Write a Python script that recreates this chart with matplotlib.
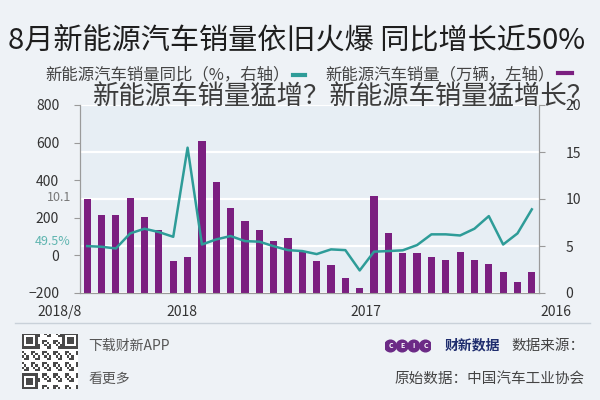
import matplotlib
matplotlib.use("Agg")
import matplotlib.pyplot as plt
import matplotlib.transforms as mtransforms
from matplotlib.patches import Circle
import numpy as np

plt.rcParams['font.family'] = ['Noto Sans CJK SC', 'DejaVu Sans']

# months 2016/1 .. 2018/8 (chronological); the reference is drawn mirrored
sales = [2.2, 1.2, 2.2, 3.1, 3.5, 4.4, 3.5, 3.8, 4.3, 4.3, 6.4, 10.3,
         0.5, 1.6, 3.0, 3.4, 4.5, 5.8, 5.5, 6.7, 7.7, 9.0, 11.8, 16.2,
         3.8, 3.4, 6.7, 8.1, 10.1, 8.3, 8.3, 10.0]
growth = [245, 117, 58, 209, 142, 106, 112, 112, 55, 27, 23, 20,
          -80, 28, 32, 7, 23, 28, 49, 73, 76, 103, 85, 58,
          573, 99, 124, 142, 117, 37, 46, 49.5]
year_ticks = [11.5, 23.5]
year_labels = ['2016', '2017', '2018', '2018/8']
year_label_pos = [-1.7, 11.6, 24.4, 32.9]

BG = '#eef2f6'
PLOT_BG = '#e7eef4'
PURPLE = '#7b1f80'
TEAL = '#2e9c98'

fig = plt.figure(figsize=(6, 4), dpi=100, facecolor=BG)
ax2 = fig.add_axes([80 / 600, 107 / 400, 459 / 600, 188 / 400])
ax2.set_facecolor(PLOT_BG)
ax = ax2.twinx()
# growth axis sits on the left, sales on the right (mirrored layout)
ax.yaxis.tick_left()
ax2.yaxis.tick_right()
ax.set_zorder(ax2.get_zorder() + 1)
ax.patch.set_visible(False)

x = np.arange(len(sales))
ax2.bar(x, sales, width=0.5, color=PURPLE, zorder=3)
ax2.set_ylim(0, 20)
ax2.set_yticks([0, 5, 10, 15, 20])
ax2.grid(axis='y', color='white', linewidth=1.6, zorder=0)
ax2.set_axisbelow(True)

ax.plot(x, growth, color=TEAL, linewidth=1.8, zorder=4)
ax.set_ylim(-200, 800)
ax.set_yticks([-200, 0, 200, 400, 600, 800])
ax.set_yticklabels(['−200', '0', '200', '400', '600', '800'])

for a in (ax, ax2):
    a.set_xlim(31.5, -0.5)
    for s in a.spines.values():
        s.set_color('#9a9a9a')
    a.spines['top'].set_visible(False)
    a.tick_params(colors='#9a9a9a', labelcolor='#333333', labelsize=10, length=4)
ax2.tick_params(axis='y', pad=15)
ax.tick_params(axis='y', pad=11)
ax2.set_xticks(year_ticks)
ax2.set_xticklabels([])
ax.set_xticks([])

trans = mtransforms.blended_transform_factory(ax2.transData, ax2.transAxes)
for lab, pos in zip(year_labels, year_label_pos):
    ax2.text(pos, -0.1, lab, transform=trans, ha='center', va='center',
             fontsize=10, color='#333333')

# end-of-series value labels
tl = mtransforms.blended_transform_factory(ax2.transAxes, ax2.transData)
ax2.text(-0.02, sales[-1] + 0.2, '10.1', transform=tl, ha='right', va='center',
         fontsize=9, color='#777777')
tg = mtransforms.blended_transform_factory(ax.transAxes, ax.transData)
ax.text(-0.02, growth[-1] + 25, '49.5%', transform=tg, ha='right', va='center',
        fontsize=9, color='#5fb5b0')

# title
fig.text(0.495, 1 - 40 / 400, '8月新能源汽车销量依旧火爆 同比增长近50%', ha='center',
         va='center', fontsize=21, color='#1e1e1e')

# legend
fig.text(290 / 600, 1 - 75 / 400, '新能源汽车销量同比（%，右轴）', ha='right', va='center',
         fontsize=11.8, color='#444444')
fig.add_artist(plt.Line2D([293 / 600, 305 / 600], [1 - 75 / 400] * 2, color=TEAL, linewidth=3))
fig.text(555 / 600, 1 - 75 / 400, '新能源汽车销量（万辆，左轴）', ha='right', va='center',
         fontsize=11.8, color='#444444')
fig.add_artist(plt.Line2D([558 / 600, 572 / 600], [1 - 73 / 400] * 2, color=PURPLE, linewidth=3))

# overlay caption
fig.text(93 / 600, 1 - 96 / 400, '新能源车销量猛增？新能源车销量猛增长？', ha='left', va='center',
         fontsize=19, fontweight='light', color='#3c3c3c', zorder=10)

# footer
fig.add_artist(plt.Line2D([15 / 600, 590 / 600], [1 - 323 / 400] * 2, color='#c9d1d9', linewidth=1))
qr = fig.add_axes([22 / 600, 1 - 390 / 400, 56 / 600, 57 / 400])
ii, jj = np.mgrid[0:25, 0:25]
pattern = ((ii * 7 + jj * 3 + ii * jj) % 5 < 2).astype(float)
for r0, c0 in [(0, 0), (0, 18), (18, 0)]:
    pattern[r0:r0 + 7, c0:c0 + 7] = 0
    pattern[r0:r0 + 7, c0:c0 + 7][[0, -1], :] = 1
    pattern[r0:r0 + 7, c0:c0 + 7][:, [0, -1]] = 1
    pattern[r0 + 2:r0 + 5, c0 + 2:c0 + 5] = 1
qr.imshow(pattern, cmap='gray_r', vmin=0, vmax=1.4, interpolation='nearest')
qr.axis('off')

fig.text(88 / 600, 1 - 346 / 400, '下载财新APP', ha='left', va='center', fontsize=10, color='#555555')
fig.text(88 / 600, 1 - 379 / 400, '看更多', ha='left', va='center', fontsize=10, color='#555555')
fig.text(585 / 600, 1 - 346 / 400, '数据来源：', ha='right', va='center', fontsize=10.5, color='#444444')
fig.text(585 / 600, 1 - 379 / 400, '原始数据：中国汽车工业协会', ha='right', va='center',
         fontsize=10.5, color='#444444')
fig.text(500 / 600, 1 - 345 / 400, '财新数据', ha='right', va='center', fontsize=10,
         fontweight='bold', color='#1f2d6e')
logo = fig.add_axes([384 / 600, 1 - 353 / 400, 48 / 600, 14 / 400])
logo.set_xlim(0, 4)
logo.set_ylim(-0.6, 0.6)
logo.set_aspect('equal')
logo.axis('off')
for k, ch in enumerate('CEIC'):
    logo.add_patch(Circle((k + 0.5, 0), 0.5, color='#6b2a86'))
    logo.text(k + 0.5, 0, ch, ha='center', va='center', fontsize=5, color='white', fontweight='bold')

fig.savefig('out.png', dpi=100, facecolor=BG)
